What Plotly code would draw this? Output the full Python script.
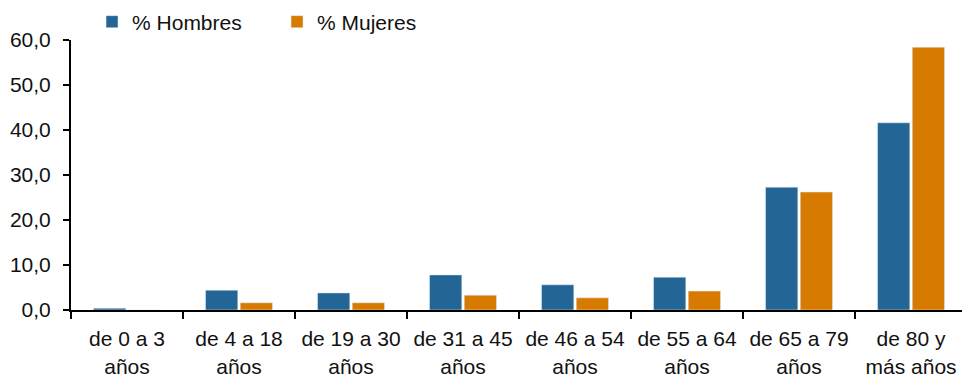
import plotly.graph_objects as go

categories = ["de 0 a 3<br>años", "de 4 a 18<br>años", "de 19 a 30<br>años", "de 31 a 45<br>años",
              "de 46 a 54<br>años", "de 55 a 64<br>años", "de 65 a 79<br>años", "de 80 y<br>más años"]
hombres = [0.4, 4.4, 3.8, 7.8, 5.6, 7.3, 27.3, 41.6]
mujeres = [0.0, 1.6, 1.6, 3.3, 2.7, 4.2, 26.2, 58.4]

blue = "#236696"
orange = "#D67A00"

fig = go.Figure()
fig.add_trace(go.Bar(name="% Hombres", x=categories, y=hombres, marker_color=blue))
fig.add_trace(go.Bar(name="% Mujeres", x=categories, y=mujeres, marker_color=orange))

fig.update_layout(
    width=962, height=376,
    margin=dict(l=71, r=0, t=40, b=66, autoexpand=False),
    paper_bgcolor="white", plot_bgcolor="white",
    font=dict(family="Liberation Sans, Arial, sans-serif", size=21, color="#111111"),
    separators=",.",
    barmode="group", bargap=0.38, bargroupgap=0.07,
    showlegend=True,
    legend=dict(orientation="h", x=0.0236, y=1.0 + 18 / 270, xanchor="left", yanchor="middle",
                entrywidth=140, entrywidthmode="pixels", font=dict(size=21),
                itemwidth=30, bgcolor="rgba(0,0,0,0)"),
    xaxis=dict(range=[-0.5, 7.455], showline=True, linecolor="black", linewidth=2,
               ticks="outside", tickson="boundaries", ticklen=7, tickwidth=2, tickcolor="black",
               showgrid=False, zeroline=False, tickangle=0, fixedrange=True,
               automargin=False, ticklabelstandoff=9),
    yaxis=dict(range=[0, 60], dtick=10, tickformat=".1f", showline=True, linecolor="black",
               linewidth=2, ticks="outside", ticklen=6, tickwidth=2, tickcolor="black",
               showgrid=False, zeroline=False, fixedrange=True,
               automargin=False, ticklabelstandoff=8),
)

fig.write_html("out.html", config={"displayModeBar": False},
               post_script="document.body.style.margin='0';document.body.style.overflow='hidden';")
